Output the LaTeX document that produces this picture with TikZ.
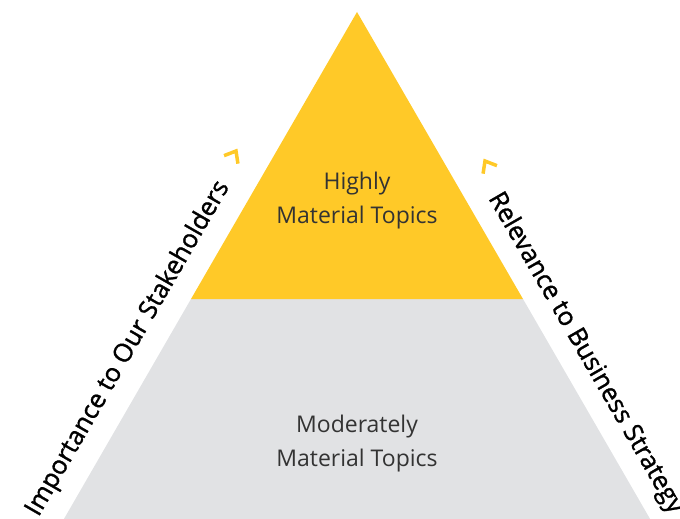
\documentclass[tikz,border=0pt]{standalone}
\usepackage{fontspec}
\setmainfont{Open Sans}
\newfontfamily\axisfont{Open Sans}[FakeBold=1.2]
\usetikzlibrary{calc}
\definecolor{matyellow}{HTML}{FFC928}
\definecolor{matgray}{HTML}{E1E2E4}
\definecolor{labelgray}{HTML}{333333}
\begin{document}
\begin{tikzpicture}[x=1pt,y=-1pt,
  toptext/.style={align=center,text=labelgray,font=\fontsize{23}{34}\selectfont},
  sidetext/.style={text=black,inner sep=0pt,font=\axisfont\fontsize{25.5}{28}\selectfont},
  chevron/.style={draw=matyellow,line width=3.5pt,miter limit=10}]
\useasboundingbox (0,0) rectangle (680,519);
\clip (0,0) rectangle (680,519);
\coordinate (apex) at (357,12);
\coordinate (midL) at (191,299);
\coordinate (midR) at (523,299);
\coordinate (baseL) at (46,550);
\coordinate (baseR) at (668,550);
% pyramid
\fill[matgray] (midL) -- (midR) -- (baseR) -- (baseL) -- cycle;
\fill[matyellow] (apex) -- (midR) -- (midL) -- cycle;
\node[toptext] (high) at (357,201) {Highly\\Material Topics};
\node[toptext] (moderate) at (357,444) {Moderately\\Material Topics};
% axis labels
\node[sidetext,rotate=60,anchor=base] (stake) at (134,352) {Importance to Our Stakeholders};
\node[sidetext,rotate=-60,anchor=base west] (strat) at (488,198) {Relevance to Business Strategy};
\draw[chevron,shift={(236,151)},rotate=60] (-10,-8) -- (0,0) -- (-10,8);
\draw[chevron,shift={(485,161)},rotate=120] (-10,-8) -- (0,0) -- (-10,8);
\end{tikzpicture}
\end{document}
